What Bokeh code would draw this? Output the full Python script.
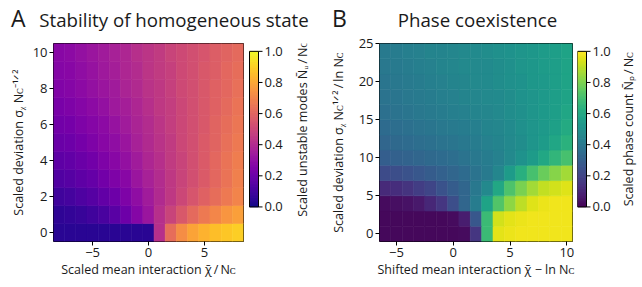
import math
from bokeh.plotting import figure
from bokeh.layouts import row, column
from bokeh.models import Range1d, FixedTicker, ColumnDataSource
from bokeh.palettes import Plasma256, Viridis256
from bokeh.transform import linear_cmap
from bokeh.embed import file_html
from bokeh.resources import INLINE
from bokeh.core.properties import value

FONT = "Open Sans"
TXT = "#1a1a1a"

# ---------------- data: panel A (plasma) ----------------
a_x = [-8, -7, -6, -5, -4, -3, -2, -1, 0, 1, 2, 3, 4, 5, 6, 7, 8]
a_y = [0, 1, 2, 3, 4, 5, 6, 7, 8, 9, 10]
a_row_0 = [0.05, 0.05, 0.05, 0.05, 0.05, 0.05, 0.05, 0.05, 0.05, 0.42, 0.63, 0.73, 0.79, 0.83, 0.86, 0.88, 0.90]
a_row_1 = [0.06, 0.07, 0.08, 0.10, 0.12, 0.16, 0.21, 0.27, 0.33, 0.42, 0.49, 0.56, 0.62, 0.67, 0.71, 0.75, 0.78]
a_row_2 = [0.10, 0.11, 0.13, 0.15, 0.18, 0.21, 0.25, 0.30, 0.35, 0.40, 0.45, 0.50, 0.55, 0.59, 0.63, 0.67, 0.70]
a_row_3 = [0.14, 0.15, 0.17, 0.19, 0.22, 0.25, 0.28, 0.33, 0.37, 0.41, 0.45, 0.49, 0.53, 0.57, 0.61, 0.65, 0.69]
a_row_4 = [0.17, 0.18, 0.20, 0.22, 0.25, 0.28, 0.31, 0.35, 0.39, 0.42, 0.46, 0.49, 0.53, 0.57, 0.61, 0.65, 0.68]
a_row_5 = [0.20, 0.21, 0.23, 0.25, 0.28, 0.30, 0.33, 0.37, 0.40, 0.43, 0.46, 0.50, 0.53, 0.57, 0.60, 0.64, 0.67]
a_row_6 = [0.22, 0.23, 0.25, 0.27, 0.29, 0.32, 0.35, 0.38, 0.41, 0.44, 0.47, 0.50, 0.53, 0.56, 0.60, 0.63, 0.66]
a_row_7 = [0.24, 0.25, 0.27, 0.29, 0.31, 0.34, 0.36, 0.39, 0.42, 0.45, 0.47, 0.50, 0.53, 0.56, 0.59, 0.62, 0.65]
a_row_8 = [0.26, 0.27, 0.29, 0.31, 0.33, 0.35, 0.38, 0.40, 0.43, 0.45, 0.48, 0.51, 0.53, 0.56, 0.59, 0.61, 0.64]
a_row_9 = [0.27, 0.28, 0.30, 0.32, 0.34, 0.36, 0.39, 0.41, 0.44, 0.46, 0.48, 0.51, 0.53, 0.56, 0.58, 0.61, 0.63]
a_row_10 = [0.28, 0.29, 0.31, 0.33, 0.35, 0.37, 0.39, 0.42, 0.44, 0.46, 0.49, 0.51, 0.53, 0.55, 0.58, 0.60, 0.62]
a_values = [a_row_0, a_row_1, a_row_2, a_row_3, a_row_4, a_row_5,
            a_row_6, a_row_7, a_row_8, a_row_9, a_row_10]

# ---------------- data: panel B (viridis) ----------------
b_x = [-6, -5, -4, -3, -2, -1, 0, 1, 2, 3, 4, 5, 6, 7, 8, 9, 10]
b_y = [0, 2, 4, 6, 8, 10, 12, 14, 16, 18, 20, 22, 24]
b_row_0 = [0.02, 0.02, 0.02, 0.02, 0.02, 0.02, 0.02, 0.03, 0.16, 0.68, 0.96, 0.97, 0.98, 0.98, 0.98, 0.98, 0.98]
b_row_2 = [0.02, 0.02, 0.02, 0.02, 0.02, 0.02, 0.03, 0.08, 0.27, 0.68, 0.93, 0.96, 0.97, 0.98, 0.98, 0.98, 0.98]
b_row_4 = [0.03, 0.04, 0.05, 0.07, 0.11, 0.16, 0.24, 0.33, 0.42, 0.58, 0.73, 0.83, 0.90, 0.95, 0.97, 0.98, 0.98]
b_row_6 = [0.12, 0.13, 0.15, 0.18, 0.21, 0.25, 0.29, 0.33, 0.40, 0.47, 0.60, 0.72, 0.80, 0.86, 0.91, 0.93, 0.95]
b_row_8 = [0.23, 0.24, 0.25, 0.27, 0.29, 0.31, 0.33, 0.35, 0.38, 0.41, 0.46, 0.55, 0.63, 0.71, 0.77, 0.82, 0.86]
b_row_10 = [0.30, 0.31, 0.32, 0.33, 0.34, 0.35, 0.36, 0.38, 0.40, 0.42, 0.44, 0.47, 0.51, 0.55, 0.60, 0.66, 0.71]
b_row_12 = [0.33, 0.34, 0.35, 0.36, 0.37, 0.38, 0.39, 0.40, 0.42, 0.44, 0.45, 0.47, 0.49, 0.52, 0.55, 0.59, 0.64]
b_row_14 = [0.35, 0.36, 0.37, 0.38, 0.39, 0.40, 0.41, 0.42, 0.43, 0.45, 0.46, 0.48, 0.50, 0.52, 0.54, 0.57, 0.61]
b_row_16 = [0.37, 0.38, 0.39, 0.40, 0.41, 0.42, 0.43, 0.44, 0.45, 0.46, 0.47, 0.49, 0.50, 0.52, 0.54, 0.56, 0.59]
b_row_18 = [0.38, 0.39, 0.40, 0.41, 0.42, 0.43, 0.44, 0.45, 0.46, 0.47, 0.48, 0.49, 0.51, 0.52, 0.54, 0.56, 0.58]
b_row_20 = [0.39, 0.40, 0.41, 0.42, 0.43, 0.44, 0.45, 0.46, 0.47, 0.48, 0.49, 0.50, 0.51, 0.53, 0.54, 0.56, 0.58]
b_row_22 = [0.40, 0.41, 0.42, 0.43, 0.44, 0.45, 0.46, 0.47, 0.47, 0.48, 0.49, 0.50, 0.52, 0.53, 0.55, 0.56, 0.58]
b_row_24 = [0.41, 0.42, 0.43, 0.44, 0.45, 0.45, 0.46, 0.47, 0.48, 0.49, 0.50, 0.51, 0.52, 0.53, 0.55, 0.56, 0.58]
b_values = [b_row_0, b_row_2, b_row_4, b_row_6, b_row_8, b_row_10, b_row_12,
            b_row_14, b_row_16, b_row_18, b_row_20, b_row_22, b_row_24]

# ---------------- ticks / labels ----------------
a_xticks = [-5, 0, 5]
a_xtick_labels = ["\u22125", "0", "5"]
a_yticks = [0, 2, 4, 6, 8, 10]
a_ytick_labels = ["0", "2", "4", "6", "8", "10"]
b_xticks = [-5, 0, 5, 10]
b_xtick_labels = ["\u22125", "0", "5", "10"]
b_yticks = [0, 5, 10, 15, 20, 25]
b_ytick_labels = ["0", "5", "10", "15", "20", "25"]
cb_ticks = [0.0, 0.2, 0.4, 0.6, 0.8, 1.0]
cb_tick_labels = ["0.0", "0.2", "0.4", "0.6", "0.8", "1.0"]

a_title = "Stability of homogeneous state"
b_title = "Phase coexistence"
a_xlabel = "Scaled mean interaction \u03c7\u0304\u2009/\u2009N\u1d04"
a_ylabel = "Scaled deviation \u03c3\u1d6a N\u1d04\u207b\u00b9\u141f\u00b2"
a_cblabel = "Scaled unstable modes N\u0304\u1d64\u2009/\u2009N\u1d04"
b_xlabel = "Shifted mean interaction \u03c7\u0304 \u2212 ln N\u1d04"
b_ylabel = "Scaled deviation \u03c3\u1d6a N\u1d04\u00b9\u141f\u00b2\u2009/\u2009ln N\u1d04"
b_cblabel = "Scaled phase count N\u0304\u209a\u2009/\u2009N\u1d04"

T_H = 33
TOP = 10
FRAME_H = 198
BOT = 44
ROW_H = TOP + FRAME_H + BOT
TICK_FS = "13px"
LAB_FS = "12.5px"


def style_axis(ax, ticks, labels, label, standoff):
    ax.ticker = FixedTicker(ticks=ticks)
    ax.major_label_overrides = {t: l for t, l in zip(ticks, labels)}
    ax.axis_label = label
    ax.axis_label_text_font = FONT
    ax.axis_label_text_font_size = LAB_FS
    ax.axis_label_text_font_style = "normal"
    ax.axis_label_text_color = TXT
    ax.axis_label_standoff = standoff
    ax.major_label_text_font = FONT
    ax.major_label_text_font_size = TICK_FS
    ax.major_label_text_color = TXT
    ax.major_label_standoff = 2
    ax.major_tick_in = 0
    ax.major_tick_out = 4
    ax.major_tick_line_color = "black"
    ax.major_tick_line_width = 1
    ax.minor_tick_line_color = None
    ax.axis_line_color = None


def heatmap(xs, ys, vals, cell_h, palette, width, bl, br,
            xt, xtl, yt, ytl, xlab, ylab, ylab_standoff):
    xx, yy, vv = [], [], []
    for j, yv in enumerate(ys):
        for i, xv in enumerate(xs):
            xx.append(xv)
            yy.append(yv)
            vv.append(vals[j][i])
    src = ColumnDataSource(dict(x=xx, y=yy, v=vv))
    p = figure(width=width, height=ROW_H, output_backend="svg", toolbar_location=None,
               x_range=Range1d(xs[0] - 0.5, xs[-1] + 0.5),
               y_range=Range1d(ys[0] - cell_h / 2, ys[-1] + cell_h / 2),
               min_border_left=bl, min_border_right=br,
               min_border_top=TOP, min_border_bottom=BOT)
    cmap = linear_cmap("v", palette, 0, 1)
    p.rect(x="x", y="y", width=1, height=cell_h, source=src,
           fill_color=cmap, line_color=cmap, line_width=0.6)
    p.grid.visible = False
    p.outline_line_color = "black"
    p.outline_line_width = 1
    style_axis(p.xaxis[0], xt, xtl, xlab, 1)
    style_axis(p.yaxis[0], yt, ytl, ylab, ylab_standoff)
    return p


def colorbar(palette, width, bar_left, label_center):
    # figure whose frame spans the whole canvas; x in pixels, y in colour-value units
    n = len(palette)
    lv = [k / n for k in range(n + 1)]
    p = figure(width=width, height=ROW_H, output_backend="svg", toolbar_location=None,
               x_range=Range1d(0, width),
               y_range=Range1d(-BOT / FRAME_H, 1 + TOP / FRAME_H),
               min_border_left=0, min_border_right=0, min_border_top=0, min_border_bottom=0)
    p.axis.visible = False
    p.grid.visible = False
    p.outline_line_color = None
    bw = 9
    p.quad(left=bar_left, right=bar_left + bw, bottom=lv[:-1], top=lv[1:],
           fill_color=list(palette), line_color=list(palette), line_width=0.6)
    p.quad(left=bar_left, right=bar_left + bw, bottom=cb_ticks[0], top=cb_ticks[-1],
           fill_color=None, line_color="black", line_width=1)
    p.segment(x0=bar_left + bw, x1=bar_left + bw + 4, y0=cb_ticks, y1=cb_ticks,
              line_color="black", line_width=1)
    p.text(x=bar_left + bw + 6, y=cb_ticks, text=cb_tick_labels, text_font=value(FONT),
           text_font_size=TICK_FS, text_color=TXT, text_baseline="middle", text_align="left")
    return p


def add_cb_label(p, x, label):
    p.text(x=[x], y=[0.5], text=[label], angle=math.pi / 2, text_font=value(FONT),
           text_font_size=LAB_FS, text_color=TXT, text_baseline="middle", text_align="center")


pA = heatmap(a_x, a_y, a_values, 1, Plasma256, 246, 53, 3,
             a_xticks, a_xtick_labels, a_yticks, a_ytick_labels, a_xlabel, a_ylabel, 3)
cA = colorbar(Plasma256, 73, 3, 56)
add_cb_label(cA, 56, a_cblabel)
pB = heatmap(b_x, b_y, b_values, 2, Viridis256, 258, 60, 5,
             b_xticks, b_xtick_labels, b_yticks, b_ytick_labels, b_xlabel, b_ylabel, 9)
cB = colorbar(Viridis256, 65, 0, 51)
add_cb_label(cB, 51, b_cblabel)

# title strip
pt = figure(width=642, height=T_H, output_backend="svg", toolbar_location=None,
            x_range=Range1d(0, 642), y_range=Range1d(0, T_H),
            min_border_left=0, min_border_right=0, min_border_top=0, min_border_bottom=0)
pt.axis.visible = False
pt.grid.visible = False
pt.outline_line_color = None
pt.text(x=[10.5, 331.5], y=[16, 16], text=["A", "B"], text_font=value(FONT),
        text_font_size="23px", text_color=TXT, text_baseline="middle", text_align="left")
pt.text(x=[173.5, 477], y=[14.5, 14.5], text=[a_title, b_title], text_font=value(FONT),
        text_font_size="18.7px", text_color=TXT, text_baseline="middle", text_align="center")

layout = column(pt, row(pA, cA, pB, cB, spacing=0), spacing=0)

open("out.html", "w").write(file_html(layout, INLINE))
